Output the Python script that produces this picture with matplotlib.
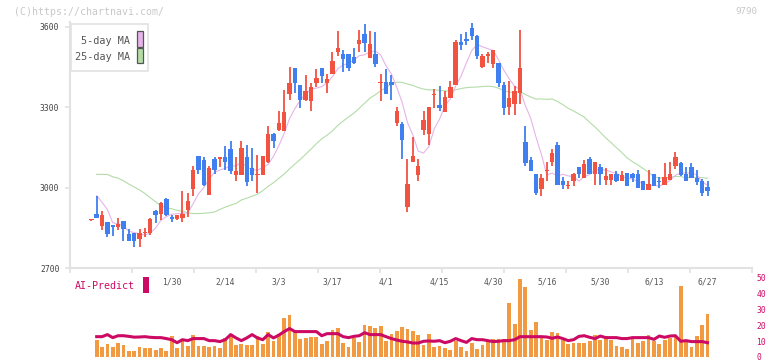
import matplotlib
matplotlib.use('Agg')
import matplotlib.pyplot as plt
import numpy as np
import pandas as pd
from matplotlib.patches import Rectangle

W, H, DPI = 772, 361, 100
nan = np.nan

# ---------------- data ----------------
opens = [2880, 2904, 2857, 2871, 2860, 2853, 2875, 2826, 2830, 2808,
         2830, 2831, 2915, 2904, 2960, 2892, 2882, 2887, 2919, 2994,
         3117, 3102, 2975, 3109, 3106, 3113, 3143, 3046, 3046, 3113,
         3072, 3046, 3046, 3098, 3202, 3217, 3210, 3348, 3448, 3382,
         3329, 3325, 3389, 3448, 3389, 3423, 3508, 3497, 3497, 3486,
         3535, 3572, 3482, 3497, 3390, 3393, 3393, 3243, 3236, 2930,
         3098, 3046, 3217, 3202, 3345, 3307, 3284, 3333, 3385, 3542,
         3553, 3594, 3564, 3452, 3490, 3460, 3467, 3382, 3303, 3314,
         3355, 3169, 3102, 3053, 2994, 3061, 3098, 3158, 3024, 3007,
         3027, 3079, 3038, 3109, 3053, 3079, 3028, 3028, 3053, 3025,
         3057, 3050, 3050, 3024, 2991, 3050, 3027, 3012, 3028, 3081,
         3094, 3050, 3079, 3038, 3024, 3002]
highs = [2884, 2971, 2915, 2873, 2862, 2889, 2877, 2845, 2832, 2845,
         2851, 2887, 2916, 2946, 2961, 2900, 2900, 2987, 2979, 3083,
         3117, 3113, 3083, 3113, 3113, 3154, 3173, 3113, 3176, 3161,
         3147, 3124, 3117, 3229, 3206, 3288, 3363, 3452, 3448, 3382,
         3422, 3389, 3441, 3448, 3426, 3505, 3583, 3512, 3497, 3520,
         3587, 3609, 3583, 3579, 3426, 3441, 3422, 3303, 3247, 3109,
         3191, 3109, 3288, 3303, 3367, 3378, 3359, 3397, 3550, 3572,
         3579, 3613, 3568, 3497, 3508, 3512, 3467, 3393, 3397, 3380,
         3587, 3232, 3113, 3053, 3053, 3098, 3143, 3169, 3042, 3027,
         3057, 3079, 3102, 3113, 3098, 3087, 3072, 3053, 3063, 3063,
         3057, 3056, 3068, 3024, 3065, 3050, 3040, 3094, 3098, 3132,
         3098, 3079, 3094, 3068, 3031, 3024]
lows = [2878, 2887, 2842, 2816, 2820, 2842, 2801, 2800, 2780, 2780,
        2817, 2825, 2867, 2879, 2896, 2874, 2880, 2874, 2892, 2969,
        3053, 3005, 2975, 3050, 3079, 3068, 3050, 3027, 3046, 3005,
        3027, 2982, 3046, 3094, 3150, 3210, 3210, 3329, 3355, 3296,
        3325, 3288, 3374, 3389, 3355, 3423, 3493, 3430, 3434, 3460,
        3505, 3508, 3482, 3449, 3325, 3348, 3329, 3229, 3109, 2909,
        3098, 3024, 3195, 3158, 3296, 3288, 3284, 3333, 3385, 3512,
        3531, 3550, 3479, 3445, 3467, 3445, 3374, 3270, 3273, 3273,
        3314, 3083, 3061, 2975, 2971, 3027, 3083, 3009, 2997, 2994,
        3005, 3038, 3038, 3053, 3012, 3012, 3010, 3010, 3023, 3025,
        3006, 3021, 2998, 2990, 2991, 3006, 2999, 3012, 3028, 3071,
        3043, 3025, 3036, 3011, 2969, 2969]
closes = [2883, 2887, 2897, 2827, 2853, 2864, 2846, 2801, 2801, 2833,
          2837, 2885, 2897, 2945, 2897, 2882, 2897, 2904, 2952, 3068,
          3068, 3012, 3072, 3068, 3113, 3098, 3061, 3064, 3147, 3020,
          3046, 3050, 3117, 3202, 3173, 3243, 3284, 3389, 3389, 3329,
          3359, 3374, 3408, 3415, 3404, 3471, 3520, 3479, 3445, 3467,
          3550, 3538, 3535, 3460, 3393, 3348, 3385, 3288, 3180, 3016,
          3117, 3083, 3251, 3303, 3348, 3296, 3337, 3374, 3542, 3531,
          3546, 3564, 3493, 3493, 3497, 3512, 3389, 3299, 3333, 3359,
          3448, 3094, 3061, 2979, 3038, 3068, 3128, 3009, 3009, 3009,
          3050, 3050, 3087, 3053, 3098, 3050, 3043, 3053, 3025, 3047,
          3006, 3037, 2998, 2991, 3016, 3006, 3021, 3042, 3053, 3113,
          3046, 3025, 3036, 3021, 2980, 2987]

# moving-average values before enough candles are on the chart
ma5_head = [nan, 2971, 2946, 2919]
ma25_head = [nan, 3050, 3050, 3050, 3041, 3036, 3026, 3014, 3003, 2992,
             2979, 2963, 2948, 2933, 2925, 2922, 2916, 2912, 2907, 2904,
             2904, 2905, 2907, 2910]

volume = [nan, 10.9, 6.5, 8.4, 6.5, 9.0, 7.8, 4.0, 4.0, 6.5,
          5.9, 5.9, 4.6, 5.9, 4.0, 13.4, 5.9, 11.6, 7.1, 14.1,
          7.1, 7.1, 6.5, 7.1, 5.9, 12.2, 14.7, 7.8, 8.4, 7.8,
          7.8, 13.4, 8.4, 16.0, 10.3, 14.7, 24.8, 26.7, 16.6, 11.6,
          12.2, 12.8, 12.8, 8.4, 10.3, 17.2, 18.5, 9.0, 6.5, 12.2,
          9.7, 20.4, 19.7, 18.5, 19.7, 10.3, 14.7, 16.6, 19.1, 17.9,
          16.6, 14.1, 7.8, 14.7, 6.5, 7.1, 5.9, 4.6, 10.3, 6.5,
          4.0, 9.0, 5.3, 7.8, 10.3, 11.6, 11.6, 11.6, 34.2, 21.0,
          49.4, 44.3, 17.2, 22.3, 13.0, 11.0, 16.0, 15.0, 11.0, 8.0,
          9.0, 9.0, 9.0, 10.0, 14.0, 11.0, 13.0, 11.0, 7.0, 6.0,
          5.0, 12.0, 9.0, 10.0, 14.0, 10.0, 8.0, 11.0, 12.0, 14.0,
          45.0, 10.0, 6.0, 13.0, 20.0, 27.0]
ai_predict = [nan, 12.8, 12.8, 14.1, 12.2, 13.4, 13.4, 13.0, 12.5, 12.6,
              12.8, 12.4, 12.2, 12.2, 11.6, 10.9, 9.0, 10.9, 10.3, 11.6,
              11.6, 11.6, 10.3, 10.3, 9.7, 10.9, 14.1, 12.0, 10.3, 12.0,
              14.1, 12.0, 10.9, 14.1, 12.0, 13.8, 16.0, 17.9, 16.0, 16.0,
              16.0, 16.0, 16.0, 13.4, 14.7, 14.7, 14.7, 12.8, 12.2, 13.0,
              13.4, 15.3, 14.1, 14.1, 14.1, 12.8, 11.6, 10.7, 9.9, 9.5,
              8.8, 8.8, 9.9, 10.1, 9.9, 10.3, 9.0, 9.9, 11.6, 10.3,
              9.2, 11.6, 10.9, 10.9, 10.3, 9.7, 9.9, 10.3, 10.3, 10.9,
              12.8, 12.8, 12.8, 12.8, 12.8, 12.6, 11.8, 12.6, 11.6, 10.3,
              10.9, 13.0, 13.4, 12.4, 11.6, 13.2, 12.2, 12.2, 12.2, 11.6,
              11.6, 12.2, 12.2, 12.2, 12.2, 11.1, 13.2, 12.4, 13.2, 13.4,
              9.9, 10.3, 9.7, 9.7, 9.7, 9.0]

date_labels = ['1/30', '2/14', '3/3', '3/17', '4/1', '4/15', '4/30',
               '5/16', '5/30', '6/13', '6/27']
date_label_idx = [15, 25, 35, 45, 55, 65, 75, 85, 95, 105, 115]
price_ticks = [2700, 3000, 3300, 3600]
vol_ticks = [0, 10, 20, 30, 40, 50]

# ---------------- styling ----------------
RED = '#f25240'
BLUE = '#3f7ff0'
MA5_C = '#e6b4ea'
MA25_C = '#b4dca8'
VOL_C = '#f29a42'
AI_C = '#cc0a64'
GRID = '#e2e2e2'
FONT = 'DejaVu Sans Mono'
plt.rcParams['font.family'] = [FONT]

def fx(px):
    return px / W

def fy(py):
    return 1 - py / H

fig = plt.figure(figsize=(W / DPI, H / DPI), dpi=DPI)
fig.patch.set_facecolor('white')

# ---------------- price panel ----------------
ax = fig.add_axes([fx(70), fy(268.3), fx(752) - fx(70), fy(22) - fy(268.3)])
n = len(closes)
x = np.arange(n)
o = np.array(opens, float); c = np.array(closes, float)
hi = np.array(highs, float); lo = np.array(lows, float)
up = c >= o
cols = np.where(up, RED, BLUE)
body_bot = np.minimum(o, c)
body_h = np.maximum(np.abs(c - o), 4.0)
ax.vlines(x, lo, hi, colors=cols, linewidth=1.3, zorder=2)
ax.bar(x, body_h, bottom=body_bot, width=0.82, color=cols, linewidth=0, zorder=3)

cs = pd.Series(closes, dtype=float)
ma5 = cs.rolling(5).mean().to_numpy()
ma5[:len(ma5_head)] = ma5_head
ma25 = cs.rolling(25).mean().to_numpy()
ma25[:len(ma25_head)] = ma25_head
ax.plot(x, ma25, color=MA25_C, lw=0.8, zorder=1)
ax.plot(x, ma5, color=MA5_C, lw=0.8, zorder=1)

x0, x1 = -3.98, 123.3
ax.set_xlim(x0, x1)
ax.set_ylim(2700, 3618)
for s in ['top', 'right']:
    ax.spines[s].set_visible(False)
for s in ['left', 'bottom']:
    ax.spines[s].set_color(GRID)
    ax.spines[s].set_linewidth(1.5)
ax.set_xticks(np.linspace(x0, x1, 12))
ax.set_xticklabels([])
ax.set_yticks(price_ticks)
ax.set_yticklabels([str(t) for t in price_ticks], fontsize=5.8, color='#444444')
ax.tick_params(axis='both', direction='out', length=3.6, width=1.2, color=GRID, pad=4)

for idx, lab in zip(date_label_idx, date_labels):
    ax.text(idx, -0.056, lab, transform=ax.get_xaxis_transform(), ha='center',
            va='center', fontsize=5.8, color='#555555')

# ---------------- volume panel ----------------
VB = 357.0
axv = fig.add_axes([fx(70), fy(VB), fx(752) - fx(70), (VB - 270) / H])
axv.bar(x, volume, width=0.7, color=VOL_C, linewidth=0, zorder=1)
axv.plot(x, ai_predict, color=AI_C, lw=2.2, zorder=2, solid_joinstyle='round')
axv.set_xlim(x0, x1)
axv.set_ylim(0, (VB - 270) / 1.588)
axv.patch.set_alpha(0)
for s in axv.spines.values():
    s.set_visible(False)
axv.set_xticks([])
axv.yaxis.tick_right()
axv.set_yticks(vol_ticks)
axv.set_yticklabels([str(t) for t in vol_ticks], fontsize=5.8, color=AI_C)
axv.tick_params(axis='y', length=0, pad=3)

# ---------------- texts / legend ----------------
fig.text(fx(14), fy(12), '(C)https://chartnavi.com/', fontsize=7.1, color='#c8c8c8',
         ha='left', va='center')
fig.text(fx(757), fy(12), '9790', fontsize=6.6, color='#c8c8c8', ha='right', va='center')

fig.patches.append(Rectangle((fx(70.5), fy(71)), fx(148.3) - fx(70.5), fy(24) - fy(71),
                             transform=fig.transFigure, facecolor='white',
                             edgecolor=GRID, lw=1.2, zorder=5))
fig.text(fx(130), fy(41.5), '5-day MA', fontsize=7.3, color='#555555', ha='right',
         va='center', zorder=6)
fig.text(fx(130), fy(57), '25-day MA', fontsize=7.3, color='#555555', ha='right',
         va='center', zorder=6)
fig.patches.append(Rectangle((fx(136.5), fy(46.5)), fx(142.5) - fx(136.5), fy(31) - fy(46.5),
                             transform=fig.transFigure, facecolor=MA5_C,
                             edgecolor='#555555', lw=0.9, zorder=6))
fig.patches.append(Rectangle((fx(136.5), fy(63)), fx(142.5) - fx(136.5), fy(48) - fy(63),
                             transform=fig.transFigure, facecolor=MA25_C,
                             edgecolor='#555555', lw=0.9, zorder=6))

fig.text(fx(75), fy(286), 'AI-Predict', fontsize=7.2, color=AI_C, ha='left', va='center')
fig.patches.append(Rectangle((fx(142.5), fy(293)), fx(149) - fx(142.5), fy(277) - fy(293),
                             transform=fig.transFigure, facecolor=AI_C, lw=0))

fig.savefig('out.png', dpi=DPI)
